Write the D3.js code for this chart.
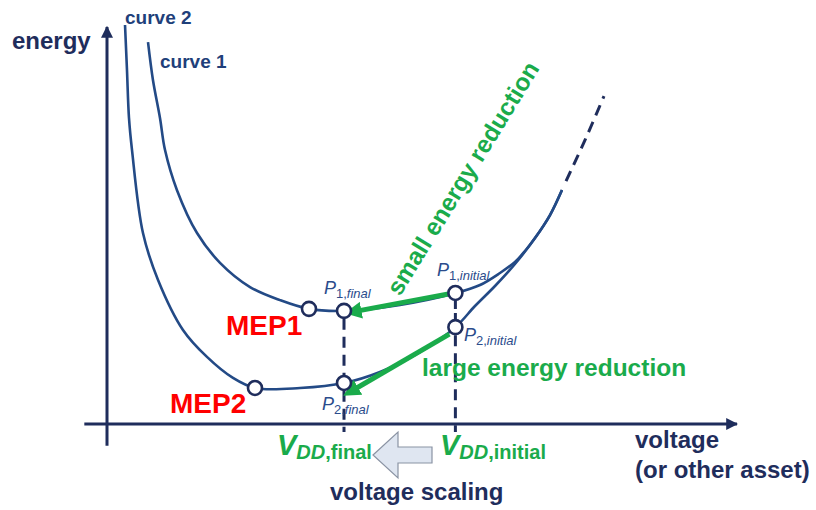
<!DOCTYPE html>
<html>
<head>
<meta charset="utf-8">
<script src="https://cdn.jsdelivr.net/npm/d3@7"></script>
<style>
  body { margin: 0; background: #fff; }
  text { font-family: "Liberation Sans", Arial, sans-serif; }
</style>
</head>
<body>
<div class="chart"></div>
<script>
// curve 1 (higher minimum)
const volt1 = [6.51, 7.3, 8.41, 9.21, 11.11, 14.29, 17.94, 22.7, 27.46, 32.06, 37.62, 46.51, 55.4, 59.21, 62.38, 64.76, 66.35, 67.94, 70.32, 72.22];
const energy1 = [96.2, 86.6, 77.1, 69.0, 58.9, 48.1, 40.6, 34.5, 31.2, 29.0, 28.5, 30.0, 33.0, 35.01, 38.04, 40.81, 43.58, 46.85, 52.64, 58.94];
// curve 2 (lower minimum)
const volt2 = [2.86, 3.17, 3.49, 3.97, 5.71, 8.1, 12.06, 15.87, 20.0, 23.49, 30.63, 37.62, 43.33, 49.68, 55.3, 58.41, 61.59, 64.76, 67.94, 70.32, 72.22];
const energy2 = [100.5, 89.2, 77.1, 69.0, 48.1, 36.3, 23.7, 16.9, 11.6, 9.07, 9.07, 10.33, 13.1, 18.1, 24.4, 29.72, 34.76, 40.3, 46.85, 52.64, 58.94];
// dashed extension
const voltExt = [72.86, 75.87, 78.89];
const energyExt = [61.2, 71.5, 82.6];

// marked points
const pointNames = ["MEP1", "P1f", "P1i", "MEP2", "P2f", "P2i"];
const pointVolt = [32.06, 37.62, 55.3, 23.49, 37.62, 55.3];
const pointEnergy = [29.0, 28.5, 33.0, 9.07, 10.33, 24.4];

const vddFinal = 37.62, vddInitial = 55.3;

let margin = { top: 27, right: 79, bottom: 86, left: 107 },
  width = 816 - margin.left - margin.right,
  height = 510 - margin.top - margin.bottom;

const navy = "#1f2d5c", curveCol = "#234a86", green = "#1aab4b", red = "#ff0000";

let svg = d3.select(".chart").append("svg")
  .attr("width", 816).attr("height", 510);

let x = d3.scaleLinear().domain([0, 100]).range([margin.left, margin.left + width]);
let y = d3.scaleLinear().domain([0, 100]).range([margin.top + height, margin.top]);

let defs = svg.append("defs");
defs.append("marker").attr("id", "axisHead")
  .attr("viewBox", "0 0 10 10").attr("refX", 9).attr("refY", 5)
  .attr("markerWidth", 4).attr("markerHeight", 4).attr("orient", "auto")
  .attr("markerUnits", "strokeWidth")
  .append("path").attr("d", "M0,0 L10,5 L0,10 Z").attr("fill", navy);
defs.append("marker").attr("id", "greenHead")
  .attr("viewBox", "0 0 10 10").attr("refX", 2).attr("refY", 5)
  .attr("markerWidth", 3.4).attr("markerHeight", 3.4).attr("orient", "auto")
  .attr("markerUnits", "strokeWidth")
  .append("path").attr("d", "M0,0 L10,5 L0,10 Z").attr("fill", green);

// AXES
svg.append("line")
  .attr("x1", x(-3.6)).attr("y1", y(0)).attr("x2", x(100)).attr("y2", y(0))
  .attr("stroke", navy).attr("stroke-width", 3).attr("marker-end", "url(#axisHead)");
svg.append("line")
  .attr("x1", x(0)).attr("y1", y(-5.5)).attr("x2", x(0)).attr("y2", y(100))
  .attr("stroke", navy).attr("stroke-width", 3).attr("marker-end", "url(#axisHead)");

// dashed guide lines
const dash = "11,7";
svg.append("line").attr("x1", x(vddFinal)).attr("x2", x(vddFinal))
  .attr("y1", y(28.5) + 8).attr("y2", y(-2))
  .attr("stroke", navy).attr("stroke-width", 3).attr("stroke-dasharray", dash);
svg.append("line").attr("x1", x(vddInitial)).attr("x2", x(vddInitial))
  .attr("y1", y(33.0) + 8).attr("y2", y(24.4) - 8)
  .attr("stroke", navy).attr("stroke-width", 3).attr("stroke-dasharray", "8,4");
svg.append("line").attr("x1", x(vddInitial)).attr("x2", x(vddInitial))
  .attr("y1", y(24.4) + 8).attr("y2", y(-2))
  .attr("stroke", navy).attr("stroke-width", 3).attr("stroke-dasharray", dash);

// CURVES
let line = d3.line().x((d) => x(d[0])).y((d) => y(d[1])).curve(d3.curveCatmullRom.alpha(0.5));
svg.append("path").datum(d3.zip(volt1, energy1)).attr("d", line)
  .attr("fill", "none").attr("stroke", curveCol).attr("stroke-width", 2.6);
svg.append("path").datum(d3.zip(volt2, energy2)).attr("d", line)
  .attr("fill", "none").attr("stroke", curveCol).attr("stroke-width", 2.6);
svg.append("path").datum(d3.zip(voltExt, energyExt)).attr("d", line)
  .attr("fill", "none").attr("stroke", navy).attr("stroke-width", 3)
  .attr("stroke-dasharray", "11,7");

// green arrows
function arrow(v1, e1, v2, e2, dx1, dy1, dx2, dy2) {
  svg.append("line")
    .attr("x1", x(v1) + dx1).attr("y1", y(e1) + dy1)
    .attr("x2", x(v2) + dx2).attr("y2", y(e2) + dy2)
    .attr("stroke", green).attr("stroke-width", 5)
    .attr("marker-end", "url(#greenHead)");
}
arrow(55.3, 33.0, 37.62, 28.5, -7, 1, 14, 0);
arrow(55.3, 24.4, 37.62, 10.33, -6, 7, 11, 6);

// circles
svg.selectAll(".pt").data(d3.range(pointNames.length)).enter()
  .append("circle").attr("class", "pt")
  .attr("cx", (i) => x(pointVolt[i])).attr("cy", (i) => y(pointEnergy[i]))
  .attr("r", 7).attr("fill", "#fff").attr("stroke", navy).attr("stroke-width", 2.6);

// TEXTS
function txt(tx, ty, s, size, col, weight) {
  return svg.append("text").attr("x", tx).attr("y", ty).text(s)
    .attr("font-size", size).attr("fill", col).attr("font-weight", weight || "bold");
}
txt(12, 49, "energy", 24, navy);
txt(125, 24, "curve 2", 19, "#1f3f7a");
txt(160, 68, "curve 1", 19, "#1f3f7a");
txt(226, 335, "MEP1", 28, red);
txt(170, 413, "MEP2", 28, red);
txt(422, 376, "large energy reduction", 24.5, green);
txt(0, 0, "small energy reduction", 24.5, green)
  .attr("transform", "translate(400,297) rotate(-58.5)");
txt(635, 448, "voltage", 24, navy);
txt(635, 478, "(or other asset)", 24, navy);
txt(330, 500, "voltage scaling", 24, navy);

// P labels
function plabel(tx, ty, sub, italicPart) {
  let t = svg.append("text").attr("x", tx).attr("y", ty)
    .attr("fill", "#2b4c8c").attr("font-size", 18).attr("font-style", "italic");
  t.append("tspan").text("P");
  t.append("tspan").attr("dy", 4).attr("font-size", 13).attr("font-style", "normal").text(sub);
  t.append("tspan").attr("font-size", 13).text(italicPart);
}
plabel(324, 294, "1,", "final");
plabel(437, 276, "1,", "initial");
plabel(464, 341, "2,", "initial");
plabel(322, 410, "2,", "final");

// VDD labels
function vlabel(tx, ty, rest) {
  let t = svg.append("text").attr("x", tx).attr("y", ty)
    .attr("fill", green).attr("font-weight", "bold");
  t.append("tspan").attr("font-size", 29).attr("font-style", "italic").text("V");
  t.append("tspan").attr("dy", 4).attr("font-size", 20).attr("font-style", "italic").text("DD");
  t.append("tspan").attr("font-size", 20).text(rest);
}
vlabel(277, 455, ",final");
vlabel(440, 455, ",initial");

// hollow "voltage scaling" arrow
const blockArrow = [[373, 455], [398, 432], [398, 447], [432, 447], [432, 463], [398, 463], [398, 478]];
svg.append("polygon").attr("points", blockArrow.map((p) => p.join(",")).join(" "))
  .attr("fill", "#dfe6f1").attr("stroke", "#8a93a3").attr("stroke-width", 1.2);
</script>
</body>
</html>
